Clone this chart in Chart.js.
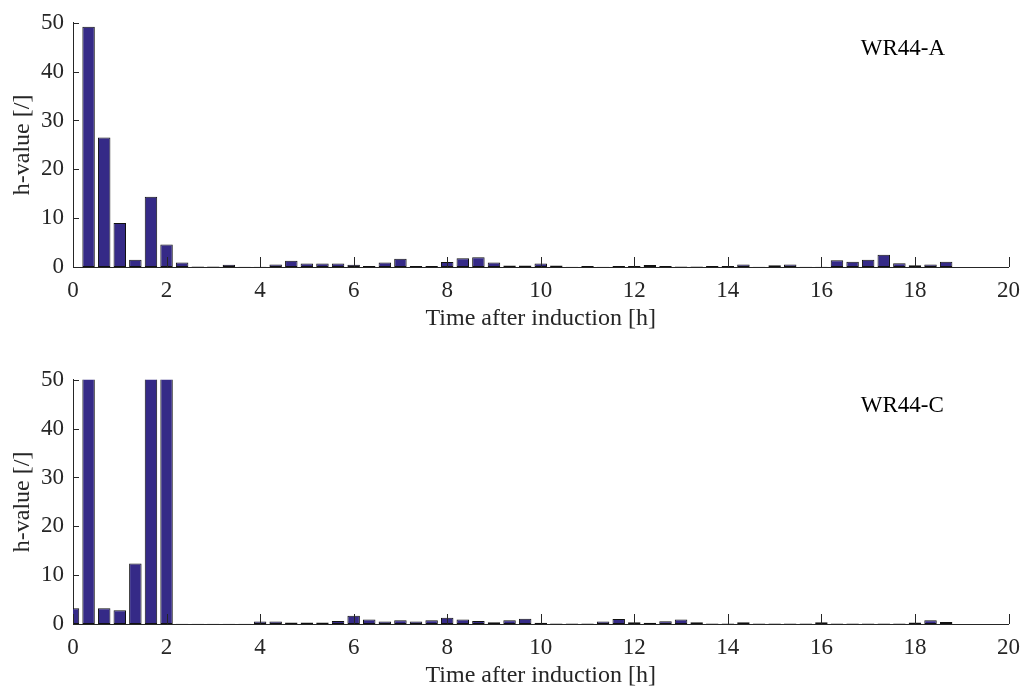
<!DOCTYPE html>
<html>
<head>
<meta charset="utf-8">
<script src="https://cdn.jsdelivr.net/npm/chart.js@4.4.1/dist/chart.umd.min.js"></script>
<style>
  html, body { margin: 0; padding: 0; background: #fff; overflow: hidden; }
  #wrap { position: relative; width: 1030px; height: 690px; }
  canvas { position: absolute; left: 0; }
  #chartA { top: 0; }
  #chartC { top: 357px; }
</style>
</head>
<body>
<div id="wrap">
  <canvas id="chartA" width="1030" height="333"></canvas>
  <canvas id="chartC" width="1030" height="333"></canvas>
</div>
<script>
(() => {
  // bin centres, hours after induction
  const hours = [
    0, 0.333, 0.667, 1, 1.333, 1.667, 2, 2.333, 2.667, 3, 3.333, 3.667,
    4, 4.333, 4.667, 5, 5.333, 5.667, 6, 6.333, 6.667, 7, 7.333, 7.667,
    8, 8.333, 8.667, 9, 9.333, 9.667, 10, 10.333, 10.667, 11, 11.333, 11.667,
    12, 12.333, 12.667, 13, 13.333, 13.667, 14, 14.333, 14.667, 15, 15.333, 15.667,
    16, 16.333, 16.667, 17, 17.333, 17.667, 18, 18.333, 18.667
  ];

  const wr44a = [
    0, 49.2, 26.5, 9.0, 1.5, 14.4, 4.6, 0.9, 0.1, 0.1, 0.45, 0.05,
    0.05, 0.5, 1.3, 0.7, 0.7, 0.7, 0.45, 0.2, 0.9, 1.7, 0.2, 0.2,
    1.0, 1.8, 2.0, 0.9, 0.3, 0.3, 0.7, 0.3, 0.05, 0.2, 0.05, 0.2,
    0.2, 0.4, 0.2, 0.1, 0.1, 0.2, 0.2, 0.5, 0.05, 0.35, 0.5, 0.05,
    0.05, 1.4, 1.1, 1.5, 2.5, 0.75, 0.35, 0.5, 1.1
  ];

  // values above 50 are cut off at the top of the axes in the original
  const wr44c = [
    3.2, 80, 3.2, 2.8, 12.4, 80, 80, 0.05, 0.05, 0.05, 0.05, 0.05,
    0.5, 0.5, 0.3, 0.3, 0.3, 0.6, 1.7, 0.9, 0.5, 0.75, 0.5, 0.75,
    1.3, 0.9, 0.6, 0.35, 0.75, 1.1, 0.25, 0.1, 0.1, 0.1, 0.5, 1.0,
    0.35, 0.25, 0.55, 0.9, 0.35, 0.1, 0.1, 0.35, 0.1, 0.1, 0.1, 0.1,
    0.35, 0.1, 0.1, 0.1, 0.1, 0.1, 0.3, 0.75, 0.4
  ];

  const xTicks = [0, 2, 4, 6, 8, 10, 12, 14, 16, 18, 20];
  const yTicks = [0, 10, 20, 30, 40, 50];

  const ink = '#262626';
  const barFill = '#352a87';
  const serif = '"Liberation Serif", "Times New Roman", serif';

  // matlab style ticks pointing into the axes + the panel label
  const matlabAxes = {
    id: 'matlabAxes',
    afterDraw(chart, args, opts) {
      const { ctx, chartArea } = chart;
      const xs = chart.scales.x;
      const ys = chart.scales.y;
      ctx.save();
      ctx.strokeStyle = ink;
      ctx.lineWidth = 1;
      ctx.beginPath();
      xTicks.forEach(v => {
        const px = Math.round(xs.getPixelForValue(v)) + 0.5;
        ctx.moveTo(px, chartArea.bottom);
        ctx.lineTo(px, chartArea.bottom - 10);
      });
      yTicks.forEach(v => {
        const py = Math.round(ys.getPixelForValue(v)) + 0.5;
        ctx.moveTo(chartArea.left, py);
        ctx.lineTo(chartArea.left + 6, py);
      });
      ctx.stroke();

      ctx.fillStyle = '#000';
      ctx.font = `23px ${serif}`;
      ctx.textAlign = 'left';
      ctx.textBaseline = 'middle';
      ctx.fillText(opts.label, xs.getPixelForValue(16.84), ys.getPixelForValue(44.6));
      ctx.restore();
    }
  };

  function buildChart(canvasId, values, label) {
    const canvas = document.getElementById(canvasId);
    return new Chart(canvas.getContext('2d'), {
      type: 'bar',
      data: {
        labels: hours,
        datasets: [{
          data: values,
          backgroundColor: barFill,
          borderColor: '#111',
          borderWidth: 1,
          borderSkipped: false,
          categoryPercentage: 1,
          barPercentage: 0.8,
          clip: 0
        }]
      },
      options: {
        responsive: false,
        animation: false,
        events: [],
        layout: { padding: { left: 0, right: 20, top: 20, bottom: 0 } },
        plugins: {
          legend: { display: false },
          tooltip: { enabled: false },
          matlabAxes: { label }
        },
        scales: {
          x: {
            type: 'linear',
            min: 0,
            max: 20,
            offset: false,
            grid: { display: false, offset: false, drawTicks: false },
            border: { display: true, color: ink, width: 1 },
            ticks: {
              stepSize: 2,
              autoSkip: false,
              maxRotation: 0,
              padding: 10,
              color: ink,
              font: { family: serif, size: 23 }
            },
            title: {
              display: true,
              text: 'Time after induction [h]',
              color: ink,
              padding: { top: 0, bottom: 0 },
              font: { family: serif, size: 24 }
            },
            afterFit: scale => { scale.height = 66; }
          },
          y: {
            min: 0,
            max: 50,
            grid: { display: false, drawTicks: false },
            border: { display: true, color: ink, width: 1 },
            ticks: {
              stepSize: 10,
              padding: 9,
              color: ink,
              font: { family: serif, size: 23 }
            },
            title: {
              display: true,
              text: 'h-value [/]',
              color: ink,
              padding: { top: 8, bottom: 0 },
              font: { family: serif, size: 24 }
            },
            afterFit: scale => { scale.width = 73; }
          }
        }
      },
      plugins: [matlabAxes]
    });
  }

  buildChart('chartA', wr44a, 'WR44-A');
  buildChart('chartC', wr44c, 'WR44-C');
})();
</script>
</body>
</html>
